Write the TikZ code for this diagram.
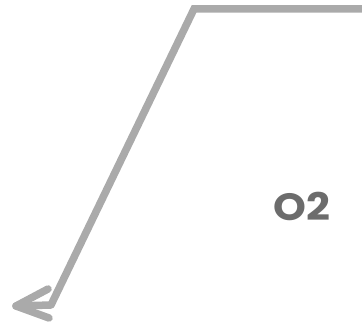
\documentclass[tikz,border=0pt]{standalone}
\usepackage{fontspec}
\setmainfont{Poppins}[BoldFont={Poppins Bold}]
\usepackage{tikz}
\usetikzlibrary{positioning}
\usepackage{xcolor}
\definecolor{LnG}{RGB}{170,170,170}
\definecolor{TxG}{RGB}{108,108,108}

\begin{document}
\begin{tikzpicture}[x=1pt, y=-1pt,
  leader/.style={draw=LnG, line width=7.5pt, line join=miter},
  chevron/.style={draw=LnG, line width=7.5pt, line cap=round, line join=round},
  step label/.style={font=\fontsize{38}{38}\selectfont\bfseries, text=TxG, inner sep=0pt}
]
\useasboundingbox (0,0) rectangle (362,329);
\coordinate (start) at (366,9);
\coordinate (corner) at (194,9);
\coordinate (end) at (51,305);
\coordinate (tip) at (16,306);
\coordinate (armA) at (48,289);
\coordinate (armB) at (49,318);

\draw[leader] (start) -- (corner) -- (end);
\draw[chevron] (armA) -- (tip) -- (armB);
\draw[chevron] (tip) -- (end);

\node[step label, xscale=1.1] (num) at (302,206) {O2};
\end{tikzpicture}
\end{document}
